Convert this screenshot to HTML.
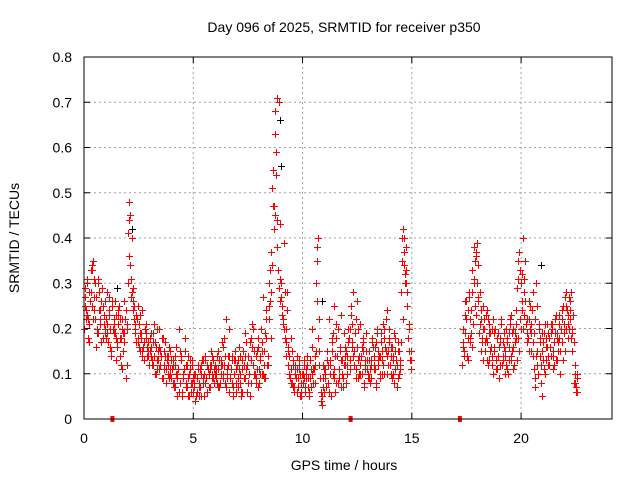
<!DOCTYPE html>
<html><head><meta charset="utf-8"><style>
body{margin:0;background:#fff}
svg text{font-family:"Liberation Sans",sans-serif;font-size:14px;fill:#000}
</style></head><body>
<svg id="chart" width="640" height="480" xmlns="http://www.w3.org/2000/svg">
<text x="344" y="32" text-anchor="middle">Day 096 of 2025, SRMTID for receiver p350</text>
<text transform="translate(19,238) rotate(-90)" text-anchor="middle">SRMTID / TECUs</text>
<text x="344" y="470" text-anchor="middle">GPS time / hours</text>
<g id="grid"></g>
<g id="ticks"></g>
<g id="marks"></g>
<rect x="84" y="57" width="528" height="362" fill="none" stroke="#000" stroke-width="1"/>
</svg>
<script>
const xTicks=[0,5,10,15,20];
const yTicks=[0,0.1,0.2,0.3,0.4,0.5,0.6,0.7,0.8];
const yTickLabels=["0","0.1","0.2","0.3","0.4","0.5","0.6","0.7","0.8"];
const segAStart=0, segBStart=17.3, step=0.05;
const segA=[.20,.27,.24,.30,.22,.28,.33,.25,.35,.31,.22,.27,.19,.30,.24,.21,.26,.18,.23,.20,
.22,.28,.17,.24,.20,.15,.26,.21,.19,.23,.16,.21,.25,.18,.12,.22,.19,.26,.09,.21,
.30,.48,.45,.27,.40,.29,.25,.20,.23,.17,.21,.15,.19,.24,.16,.13,.20,.18,.14,.17,
.15,.19,.12,.17,.14,.10,.16,.20,.13,.11,.15,.09,.18,.12,.14,.08,.13,.10,.16,.11,
.09,.12,.07,.14,.10,.05,.11,.20,.08,.13,.06,.10,.18,.07,.12,.09,.05,.11,.08,.13,
.06,.10,.04,.09,.12,.07,.11,.05,.13,.08,.10,.14,.09,.12,.07,.11,.15,.10,.13,.08,
.12,.09,.14,.11,.07,.13,.17,.10,.12,.08,.22,.11,.14,.06,.09,.13,.05,.10,.15,.08,
.12,.07,.16,.10,.05,.13,.09,.19,.11,.06,.14,.10,.17,.08,.21,.12,.15,.09,.11,.18,
.08,.13,.20,.10,.27,.15,.09,.22,.12,.30,.26,.18,.34,.55,.47,.45,.59,.71,.70,.43,
.30,.25,.22,.39,.28,.20,.24,.15,.10,.18,.08,.13,.06,.11,.09,.14,.07,.12,.10,.05,
.08,.12,.06,.10,.14,.09,.05,.13,.07,.20,.11,.08,.15,.35,.40,.22,.09,.04,.03,.12,
.06,.10,.15,.08,.22,.12,.05,.18,.10,.25,.14,.08,.20,.11,.16,.07,.13,.09,.19,.12,
.15,.10,.20,.13,.25,.17,.28,.12,.19,.11,.16,.09,.14,.21,.10,.17,.07,.13,.19,.11,
.10,.15,.08,.13,.18,.11,.16,.07,.20,.12,.14,.09,.17,.13,.21,.10,.15,.24,.12,.18,
.12,.16,.09,.14,.19,.11,.07,.15,.10,.13,.17,.35,.42,.40,.30,.38,.25,.20,.13,.13];
const segB=[.12,.20,.15,.26,.22,.13,.28,.18,.24,.16,.21,.30,.25,.36,.39,.34,.28,.22,.18,.25,
.20,.15,.23,.17,.12,.21,.19,.14,.22,.16,.20,.11,.18,.14,.09,.17,.21,.13,.19,.15,
.12,.18,.10,.16,.22,.14,.19,.11,.17,.21,.13,.18,.15,.22,.20,.32,.40,.28,.35,.22,
.18,.26,.20,.15,.24,.28,.19,.22,.30,.25,.21,.17,.08,.05,.13,.19,.10,.16,.21,.12,
.18,.14,.20,.11,.17,.22,.13,.19,.15,.21,.10,.17,.13,.19,.15,.20,.24,.18,.27,.22,
.28,.20,.17,.08,.06,.10];
const altStep=0.1;
const altA=[.25,.31,.17,.28,.22,.30,.19,.24,.29,.21,
.18,.23,.14,.20,.26,.17,.22,.11,.19,.24,
.41,.34,.26,.19,.22,.16,.18,.13,.21,.15,
.18,.13,.21,.11,.16,.14,.09,.17,.12,.15,
.11,.08,.16,.06,.13,.09,.15,.07,.10,.12,
.08,.05,.11,.07,.09,.13,.06,.10,.12,.09,
.10,.15,.08,.12,.18,.09,.14,.11,.07,.13,
.09,.14,.06,.12,.17,.08,.13,.20,.10,.15,
.11,.17,.09,.24,.14,.33,.51,.63,.38,.29,
.27,.21,.17,.12,.09,.15,.07,.11,.13,.06,
.10,.07,.12,.09,.16,.11,.30,.18,.06,.09,
.09,.13,.06,.17,.11,.21,.08,.15,.10,.14,
.12,.18,.23,.14,.09,.20,.12,.16,.08,.15,
.13,.09,.16,.11,.19,.14,.10,.18,.22,.15,
.14,.10,.18,.12,.15,.28,.37,.33,.18,.13];
const altB=[.17,.23,.14,.27,.19,.31,.37,.26,.21,.17,.22,.13,.19,.16,.10,.20,.14,.18,.12,.16,
.20,.13,.23,.16,.19,.29,.37,.24,.31,.21,.18,.25,.14,.07,.15,.20,.12,.17,.13,.19,
.16,.21,.12,.18,.23,.20,.25,.27,.21,.24,.15,.08,.07];
const altC=[.22,.18,.26,.33,.24,.20,.28,.17,.25,.19,
.21,.16,.25,.19,.13,.23,.18,.15,.22,.20,
.36,.28,.22,.17,.25,.19,.14,.20,.16,.12,
.14,.19,.10,.15,.12,.18,.11,.14,.09,.13,
.13,.07,.10,.15,.05,.11,.08,.14,.06,.09,
.10,.06,.08,.12,.05,.09,.11,.07,.14,.10,
.08,.13,.10,.16,.07,.12,.09,.14,.10,.06,
.11,.06,.15,.09,.12,.05,.16,.10,.14,.07,
.14,.10,.19,.12,.22,.28,.42,.54,.33,.26,
.23,.18,.28,.14,.11,.07,.12,.09,.05,.10,
.13,.09,.06,.11,.08,.14,.26,.12,.05,.11,
.07,.12,.10,.19,.06,.14,.09,.23,.12,.08,
.17,.11,.21,.15,.26,.10,.14,.18,.12,.09,
.11,.17,.12,.08,.15,.19,.12,.16,.10,.20,
.16,.08,.13,.17,.11,.22,.32,.28,.21,.15];
const altCB=[.14,.26,.18,.22,.28,.35,.30,.19,.24,.13,.18,.22,.15,.12,.19,.11,.16,.22,.14,.10,
.17,.21,.15,.12,.24,.35,.30,.20,.26,.17,.22,.19,.11,.14,.10,.18,.15,.21,.16,.12,
.19,.14,.23,.17,.15,.22,.19,.25,.20,.18,.23,.10,.09];
const altD=[.29,.23,.21,.34,.27,.16,.31,.22,.18,.26,
.19,.27,.15,.22,.18,.24,.14,.20,.17,.12,
.44,.31,.24,.21,.18,.23,.15,.17,.19,.14,
.16,.12,.17,.13,.20,.09,.15,.11,.14,.10,
.08,.12,.09,.06,.14,.10,.12,.05,.13,.08,
.07,.09,.05,.10,.13,.08,.06,.12,.09,.11,
.11,.07,.12,.09,.14,.10,.20,.08,.13,.11,
.13,.08,.11,.14,.06,.10,.18,.12,.08,.16,
.10,.15,.12,.18,.25,.37,.47,.68,.44,.31,
.25,.20,.14,.16,.08,.12,.10,.06,.11,.08,
.09,.11,.07,.13,.10,.12,.38,.15,.04,.07,
.11,.08,.13,.15,.09,.18,.11,.13,.07,.16,
.14,.20,.16,.12,.22,.13,.10,.15,.11,.13,
.09,.12,.14,.17,.13,.10,.15,.20,.14,.17,
.10,.13,.15,.09,.12,.40,.34,.30,.15,.11];
const altDB=[.16,.19,.24,.17,.33,.38,.23,.27,.15,.20,.17,.24,.13,.20,.15,.13,.19,.12,.17,.14,
.11,.19,.13,.20,.18,.31,.33,.26,.23,.19,.15,.21,.17,.09,.12,.14,.19,.11,.18,.14,
.21,.15,.19,.13,.18,.24,.21,.28,.23,.26,.19,.12,.06];
const blackT=[0.05,1.5,2.2,8.95,9.0,10.9,20.9];
const blackV=[0.27,0.29,0.42,0.66,0.56,0.26,0.34];
const gapT=[1.3,12.2,17.2];

const X0=84,X1=612,Y0=419,Y1=57,XMAX=24.16,YMAX=0.8;
const sx=t=>X0+(t/XMAX)*(X1-X0);
const sy=v=>Y0-(v/YMAX)*(Y0-Y1);
const NS="http://www.w3.org/2000/svg";
const grid=document.getElementById('grid'),ticks=document.getElementById('ticks'),marks=document.getElementById('marks');
function mk(tag,parent){const e=document.createElementNS(NS,tag);parent.appendChild(e);return e;}
xTicks.forEach(t=>{const x=sx(t);
 if(t>0){const g=mk('line',grid);g.setAttribute('x1',x);g.setAttribute('x2',x);g.setAttribute('y1',Y1);g.setAttribute('y2',Y0);g.setAttribute('stroke','#a0a0a0');g.setAttribute('stroke-dasharray','2,3');
 
 }
 const tk=mk('path',ticks);tk.setAttribute('d',`M${x},${Y0}v-6M${x},${Y1}v6`);tk.setAttribute('stroke','#000');
 
 
 const l=mk('text',ticks);l.setAttribute('x',x);l.setAttribute('y',443);l.setAttribute('text-anchor','middle');l.textContent=t;
 
 
});
yTicks.forEach((v,i)=>{const y=sy(v);
 if(v>0&&v<0.8){const g=mk('line',grid);g.setAttribute('x1',X0);g.setAttribute('x2',X1);g.setAttribute('y1',y);g.setAttribute('y2',y);g.setAttribute('stroke','#a0a0a0');g.setAttribute('stroke-dasharray','2,3');
 
 }
 const tk=mk('path',ticks);tk.setAttribute('d',`M${X0},${y}h6M${X1},${y}h-6`);tk.setAttribute('stroke','#000');
 
 
 const l=mk('text',ticks);l.setAttribute('x',72);l.setAttribute('y',y+5);l.setAttribute('text-anchor','end');l.textContent=yTickLabels[i];
 
 
});
function plus(t,v,color,name){const x=Math.round(sx(t))+0.5,y=Math.round(sy(v))+0.5;
 const p=mk('path',marks);p.setAttribute('d',`M${x-3.5},${y}h7M${x},${y-3.5}v7`);p.setAttribute('stroke',color);p.setAttribute('stroke-width','1');
 
 }
blackT.forEach((t,i)=>plus(t,blackV[i],'#000','black-point'));
function series(arr,start,st){arr.forEach((v,i)=>plus(start+i*st,v,'#f00','srmtid-point'));}
series(segA,segAStart,step);
series(segB,segBStart,step);
series(altA,0.025,altStep);
series(altB,17.325,altStep);
series(altC,0.075,altStep);
series(altCB,17.375,altStep);
series(altD,0.05,altStep);
series(altDB,17.35,altStep);
gapT.forEach(t=>{const r=mk('rect',marks);r.setAttribute('x',sx(t)-2);r.setAttribute('y',Y0-3);r.setAttribute('width',4);r.setAttribute('height',6);r.setAttribute('fill','#f00');
 
 });
</script>
</body></html>
